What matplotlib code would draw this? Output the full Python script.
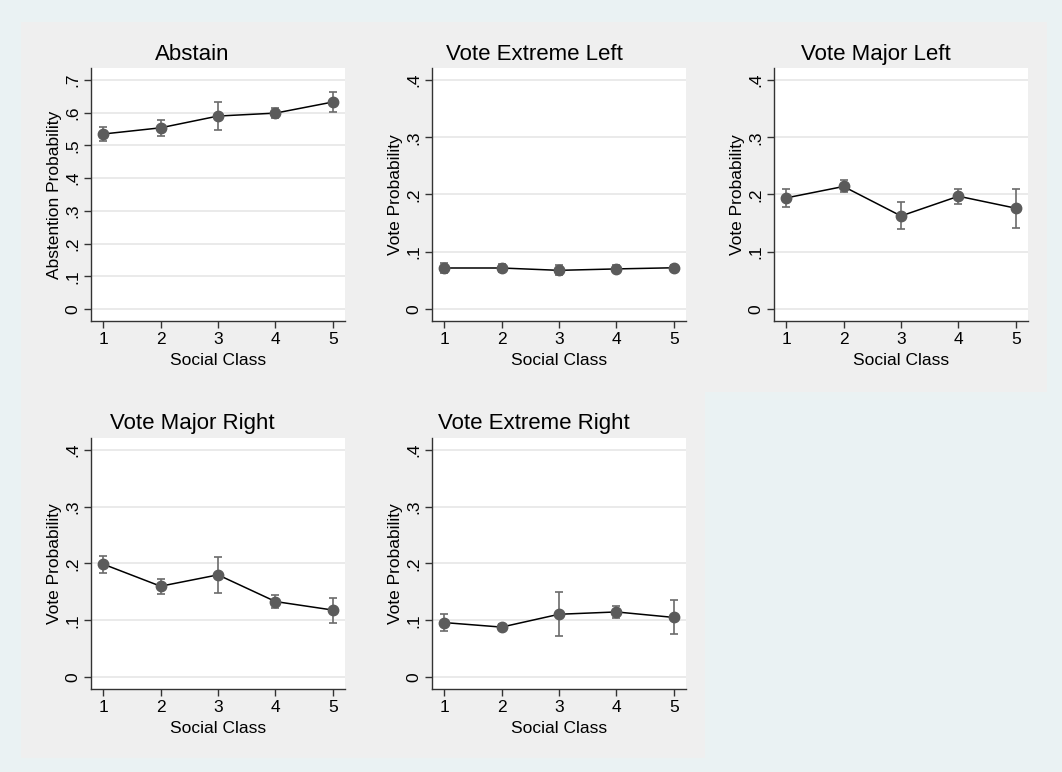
import numpy as np
import matplotlib.pyplot as plt
from matplotlib.patches import Rectangle

plt.rcParams['font.family'] = ['Liberation Sans', 'DejaVu Sans']

social_class = [1, 2, 3, 4, 5]

titles = ["Abstain", "Vote Extreme Left", "Vote Major Left",
          "Vote Major Right", "Vote Extreme Right"]
ylabels = ["Abstention Probability", "Vote Probability", "Vote Probability",
           "Vote Probability", "Vote Probability"]

abstain = [0.535, 0.554, 0.590, 0.599, 0.633]
abstain_lo = [0.513, 0.530, 0.546, 0.584, 0.601]
abstain_hi = [0.557, 0.578, 0.632, 0.614, 0.664]

ext_left = [0.0716, 0.0716, 0.0675, 0.070, 0.072]
ext_left_lo = [0.063, 0.065, 0.059, 0.064, 0.067]
ext_left_hi = [0.080, 0.078, 0.077, 0.076, 0.077]

maj_left = [0.194, 0.214, 0.1625, 0.197, 0.176]
maj_left_lo = [0.179, 0.204, 0.139, 0.183, 0.142]
maj_left_hi = [0.209, 0.226, 0.187, 0.210, 0.210]

maj_right = [0.199, 0.160, 0.180, 0.133, 0.118]
maj_right_lo = [0.184, 0.147, 0.148, 0.121, 0.096]
maj_right_hi = [0.214, 0.172, 0.212, 0.144, 0.140]

ext_right = [0.096, 0.088, 0.1106, 0.1147, 0.105]
ext_right_lo = [0.081, 0.083, 0.073, 0.104, 0.076]
ext_right_hi = [0.111, 0.093, 0.149, 0.125, 0.135]

series = [(abstain, abstain_lo, abstain_hi),
          (ext_left, ext_left_lo, ext_left_hi),
          (maj_left, maj_left_lo, maj_left_hi),
          (maj_right, maj_right_lo, maj_right_hi),
          (ext_right, ext_right_lo, ext_right_hi)]

yticks_abstain = [0, .1, .2, .3, .4, .5, .6, .7]
yticks_vote = [0, .1, .2, .3, .4]

W, H = 1062, 772
fig = plt.figure(figsize=(W / 100, H / 100), dpi=100)
fig.patch.set_facecolor('#EAF2F3')


def px_rect(x0, y0, x1, y1):
    # pixel box (top-left origin) -> figure fraction [l, b, w, h]
    return [x0 / W, 1 - y1 / H, (x1 - x0) / W, (y1 - y0) / H]


# gray cells behind each subgraph (Stata graph regions)
cells = [(21, 22, 363, 392), (363, 22, 705, 392), (705, 22, 1047, 392),
         (21, 392, 363, 758), (363, 392, 705, 758)]
for c in cells:
    l, b, w, h = px_rect(*c)
    fig.patches.append(Rectangle((l, b), w, h, transform=fig.transFigure,
                                 facecolor='#EFEFEF', edgecolor='none',
                                 zorder=-10))

plot_boxes = [(91, 68, 345, 321), (432, 68, 686, 321), (774, 68, 1028, 321),
              (91, 438, 345, 689), (432, 438, 686, 689)]
title_base = [60, 60, 60, 429, 429]

for i, box in enumerate(plot_boxes):
    ax = fig.add_axes(px_rect(*box))
    ax.set_facecolor('white')
    y, lo, hi = series[i]
    y = np.array(y)
    err = [y - np.array(lo), np.array(hi) - y]
    ax.plot(social_class, y, color='black', lw=1.1, zorder=3)
    ax.errorbar(social_class, y, yerr=err, fmt='none', ecolor='#6b6b6b',
                elinewidth=1.2, capsize=3.2, capthick=1.2, zorder=4)
    ax.plot(social_class, y, 'o', color='#5b5b5b', ms=7.5, zorder=5)

    if i == 0:
        ticks = yticks_abstain
        ax.set_ylim(-0.037, 0.737)
    else:
        ticks = yticks_vote
        ax.set_ylim(-0.021, 0.421)
    ax.set_yticks(ticks)
    ax.set_yticklabels(['0' if t == 0 else ('%.1f' % t)[1:] for t in ticks],
                       rotation=90, va='center')
    ax.set_xlim(0.79, 5.21)
    ax.set_xticks(social_class)
    ax.yaxis.grid(True, color='#E6E6E6', lw=1.2)
    ax.set_axisbelow(True)
    for s in ['top', 'right']:
        ax.spines[s].set_visible(False)
    for s in ['left', 'bottom']:
        ax.spines[s].set_color('#333333')
        ax.spines[s].set_linewidth(1.0)
    ax.tick_params(axis='both', labelsize=12.5, length=5, width=1.0,
                   color='#333333', pad=3)
    ax.set_xlabel("Social Class", fontsize=12.5, labelpad=4)
    ax.set_ylabel(ylabels[i], fontsize=12.5, labelpad=2)

    # title centred on the whole cell, as Stata does
    cx = (cells[i][0] + cells[i][2]) / 2
    fig.text(cx / W, 1 - title_base[i] / H, titles[i], fontsize=16,
             ha='center', va='baseline')

fig.savefig('out.png', dpi=100, facecolor=fig.get_facecolor())
